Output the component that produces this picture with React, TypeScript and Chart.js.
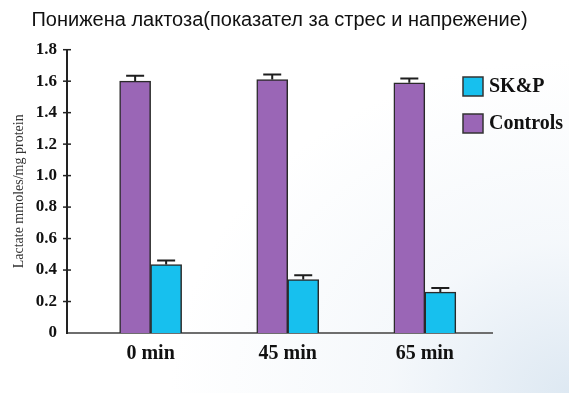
import { useEffect, useRef } from "react";
import { Chart, registerables } from "chart.js";

Chart.register(...registerables);

// Time points after exposure
const categories = ["0 min", "45 min", "65 min"];

// Lactate, mmoles/mg protein
const controlsValues = [1.6, 1.61, 1.59];
const controlsErrors = [0.035, 0.033, 0.027];
const skpValues = [0.435, 0.34, 0.26];
const skpErrors = [0.026, 0.027, 0.026];

// Y axis tick values and labels
const yTickValues = [0, 0.2, 0.4, 0.6, 0.8, 1.0, 1.2, 1.4, 1.6, 1.8];
const yTickLabels = ["0", "0.2", "0.4", "0.6", "0.8", "1.0", "1.2", "1.4", "1.6", "1.8"];

const titleText = "Понижена лактоза(показател за стрес и напрежение)";
const yTitleText = "Lactate mmoles/mg protein";

const CONTROLS_COLOR = "#9a66b6";
const SKP_COLOR = "#17c0ee";
const BAR_EDGE = "#2a2a2a";
const SERIF = "'Liberation Serif', 'Times New Roman', serif";

// Error whiskers, crossing axis ticks and the side legend
const decorPlugin = {
  id: "decor",
  afterDatasetsDraw(chart: any) {
    const ctx = chart.ctx;
    const y = chart.scales.y;
    ctx.save();
    ctx.strokeStyle = "#1e1e1e";
    ctx.lineWidth = 2;
    chart.data.datasets.forEach((ds: any, di: number) => {
      const meta = chart.getDatasetMeta(di);
      meta.data.forEach((bar: any, i: number) => {
        const v = ds.data[i].y;
        const top = y.getPixelForValue(v + ds.errors[i]);
        ctx.beginPath();
        ctx.moveTo(bar.x, bar.y);
        ctx.lineTo(bar.x, top);
        ctx.moveTo(bar.x - 9, top);
        ctx.lineTo(bar.x + 9, top);
        ctx.stroke();
      });
    });
    ctx.restore();
  },
  afterDraw(chart: any) {
    const ctx = chart.ctx;
    const y = chart.scales.y;
    const ax = chart.chartArea.left;
    ctx.save();
    ctx.strokeStyle = "#222";
    ctx.lineWidth = 1.5;
    y.ticks.forEach((t: any) => {
      if (t.value === 0) return;
      const py = y.getPixelForValue(t.value);
      ctx.beginPath();
      ctx.moveTo(ax - 4, py);
      ctx.lineTo(ax + 4, py);
      ctx.stroke();
    });

    // legend: SK&P first, then Controls
    const order = [1, 0];
    const bx = 463;
    const by = [77, 114];
    ctx.font = `bold 20px ${SERIF}`;
    ctx.textBaseline = "middle";
    ctx.textAlign = "left";
    order.forEach((di, k) => {
      const ds = chart.data.datasets[di];
      ctx.fillStyle = ds.backgroundColor;
      ctx.fillRect(bx, by[k], 20, 19);
      ctx.strokeStyle = "#333";
      ctx.lineWidth = 1.5;
      ctx.strokeRect(bx, by[k], 20, 19);
      ctx.fillStyle = "#111";
      ctx.fillText(ds.label, bx + 26, by[k] + 10);
    });
    ctx.restore();
  },
};

export default function App() {
  const canvasRef = useRef<HTMLCanvasElement | null>(null);

  useEffect(() => {
    if (!canvasRef.current) return;
    const chart = new Chart(canvasRef.current, {
      type: "bar",
      data: {
        datasets: [
          {
            label: "Controls",
            data: controlsValues.map((v, i) => ({ x: i, y: v })),
            errors: controlsErrors,
            backgroundColor: CONTROLS_COLOR,
            borderColor: BAR_EDGE,
            borderWidth: 1.5,
          } as any,
          {
            label: "SK&P",
            data: skpValues.map((v, i) => ({ x: i, y: v })),
            errors: skpErrors,
            backgroundColor: SKP_COLOR,
            borderColor: BAR_EDGE,
            borderWidth: 1.5,
          } as any,
        ],
      },
      options: {
        animation: false,
        responsive: false,
        barThickness: 31,
        layout: { padding: { left: 0, right: 10, top: 0, bottom: 0 } },
        plugins: {
          legend: { display: false },
          tooltip: { enabled: false },
          title: {
            display: true,
            text: titleText,
            color: "#111",
            font: { family: "'Liberation Sans', Arial, sans-serif", size: 20, weight: "normal" },
            padding: { top: 8, bottom: 17.7 },
          },
        },
        scales: {
          x: {
            type: "linear",
            offset: false,
            min: -0.61,
            max: 2.49,
            afterBuildTicks: (s: any) => {
              s.ticks = categories.map((_, i) => ({ value: i }));
            },
            afterFit: (s: any) => {
              s.height = 60;
            },
            grid: { display: false, drawTicks: false },
            border: { display: true, color: "#6e6e6e", width: 2 },
            ticks: {
              color: "#111",
              padding: 9,
              font: { family: SERIF, size: 20, weight: "bold" },
              callback: (v: any) => categories[v] ?? "",
            },
          },
          y: {
            min: 0,
            max: 1.8,
            afterBuildTicks: (s: any) => {
              s.ticks = yTickValues.map((v) => ({ value: v }));
            },
            afterFit: (s: any) => {
              s.width = 67;
            },
            grid: { display: false, drawTicks: false },
            border: { display: true, color: "#222", width: 2 },
            ticks: {
              color: "#111",
              padding: 10,
              font: { family: SERIF, size: 17, weight: "bold" },
              callback: (v: any) => {
                const i = yTickValues.findIndex((t) => Math.abs(t - v) < 1e-6);
                return i >= 0 ? yTickLabels[i] : "";
              },
            },
            title: {
              display: true,
              text: yTitleText,
              color: "#333",
              font: { family: SERIF, size: 14, weight: "normal" },
              padding: { top: 10.5, bottom: 0 },
            },
          },
          // blank right-hand axis reserving the legend column
          side: {
            type: "linear",
            position: "right",
            min: 0,
            max: 1.8,
            afterFit: (s: any) => {
              s.width = 67;
            },
            grid: { display: false, drawTicks: false },
            border: { display: false },
            ticks: { display: false },
          },
        },
      } as any,
      plugins: [decorPlugin],
    });
    return () => chart.destroy();
  }, []);

  return (
    <div
      style={{
        position: "fixed",
        left: 0,
        top: 0,
        width: 569,
        height: 393,
        background:
          "radial-gradient(ellipse 70% 85% at 100% 100%, rgba(218,230,241,0.9) 0%, rgba(236,242,248,0.55) 45%, rgba(255,255,255,0) 100%), #ffffff",
      }}
    >
      <canvas ref={canvasRef} width={569} height={393} style={{ display: "block" }} />
    </div>
  );
}
